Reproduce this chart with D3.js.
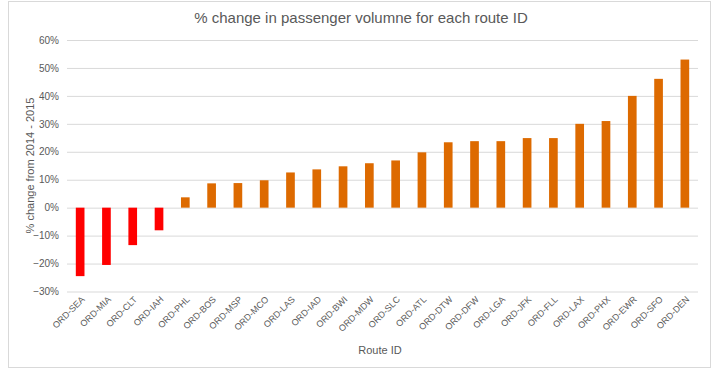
<!DOCTYPE html>
<html>
<head>
<meta charset="utf-8">
<script src="https://cdn.jsdelivr.net/npm/d3@7"></script>
<style>
  body { margin: 0; background: #fff; }
  text { font-family: "Liberation Sans", Arial, sans-serif; }
</style>
</head>
<body>
<div id="chart"></div>
<script>
// route ids and % change 2014 -> 2015
var routes = ["ORD-SEA", "ORD-MIA", "ORD-CLT", "ORD-IAH", "ORD-PHL", "ORD-BOS", "ORD-MSP", "ORD-MCO",
  "ORD-LAS", "ORD-IAD", "ORD-BWI", "ORD-MDW", "ORD-SLC", "ORD-ATL", "ORD-DTW", "ORD-DFW",
  "ORD-LGA", "ORD-JFK", "ORD-FLL", "ORD-LAX", "ORD-PHX", "ORD-EWR", "ORD-SFO", "ORD-DEN"];
var change = [-0.245, -0.205, -0.134, -0.081, 0.037, 0.087, 0.088, 0.098,
  0.126, 0.137, 0.148, 0.159, 0.169, 0.198, 0.234, 0.238,
  0.238, 0.249, 0.249, 0.30, 0.31, 0.40, 0.461, 0.53];
var yTicks = [-0.3, -0.2, -0.1, 0, 0.1, 0.2, 0.3, 0.4, 0.5, 0.6];

var W = 723, H = 377;
var margin = {top: 40, right: 25, bottom: 86, left: 67};
var width = W - margin.left - margin.right,
    height = H - margin.top - margin.bottom;

var svg = d3.select("#chart")
  .append("svg")
    .attr("width", W)
    .attr("height", H);

// outer frame
svg.append("rect")
  .attr("x", 8.5).attr("y", 1.5)
  .attr("width", 702).attr("height", 366)
  .attr("fill", "none")
  .attr("stroke", "#d9d9d9");

svg.append("text")
  .attr("x", 361).attr("y", 23)
  .attr("text-anchor", "middle")
  .attr("font-size", 15)
  .attr("fill", "#595959")
  .text("% change in passenger volumne for each route ID");

var g = svg.append("g")
  .attr("transform", "translate(" + margin.left + "," + margin.top + ")");

var x = d3.scaleBand()
  .domain(routes)
  .range([0, width])
  .paddingInner(0.67)
  .paddingOuter(0.335);

var y = d3.scaleLinear()
  .domain([-0.3, 0.6])
  .range([height + 0.5, 0]);

// grid + y labels
var yAxis = g.append("g")
  .call(d3.axisLeft(y).tickValues(yTicks).tickSize(-width)
    .tickFormat(d3.format(".0%")).tickPadding(8));
yAxis.select(".domain").remove();
yAxis.selectAll(".tick line").attr("stroke", "#d9d9d9");
yAxis.selectAll(".tick text").attr("fill", "#595959").attr("font-size", 10);

g.selectAll("rect.bar")
  .data(routes)
  .enter()
  .append("rect")
    .attr("class", "bar")
    .attr("x", function(d) { return x(d); })
    .attr("width", x.bandwidth())
    .attr("y", function(d, i) { return y(Math.max(0, change[i])); })
    .attr("height", function(d, i) { return Math.abs(y(change[i]) - y(0)); })
    .attr("fill", function(d, i) { return change[i] < 0 ? "#ff0000" : "#dd6a00"; });

// x labels, rotated
var xAxis = g.append("g")
  .attr("transform", "translate(0," + height + ")")
  .call(d3.axisBottom(x).tickSize(0).tickPadding(0));
xAxis.select(".domain").remove();
xAxis.selectAll(".tick text")
  .attr("fill", "#595959")
  .attr("font-size", 9)
  .attr("text-anchor", "end")
  .attr("dy", 0)
  .attr("transform", "translate(5,9) rotate(-45)");

svg.append("text")
  .attr("x", 380).attr("y", 354)
  .attr("text-anchor", "middle")
  .attr("font-size", 11)
  .attr("fill", "#595959")
  .text("Route ID");

svg.append("text")
  .attr("transform", "translate(34," + (margin.top + height / 2) + ") rotate(-90)")
  .attr("text-anchor", "middle")
  .attr("font-size", 11)
  .attr("fill", "#595959")
  .text("% change from 2014 - 2015");
</script>
</body>
</html>
